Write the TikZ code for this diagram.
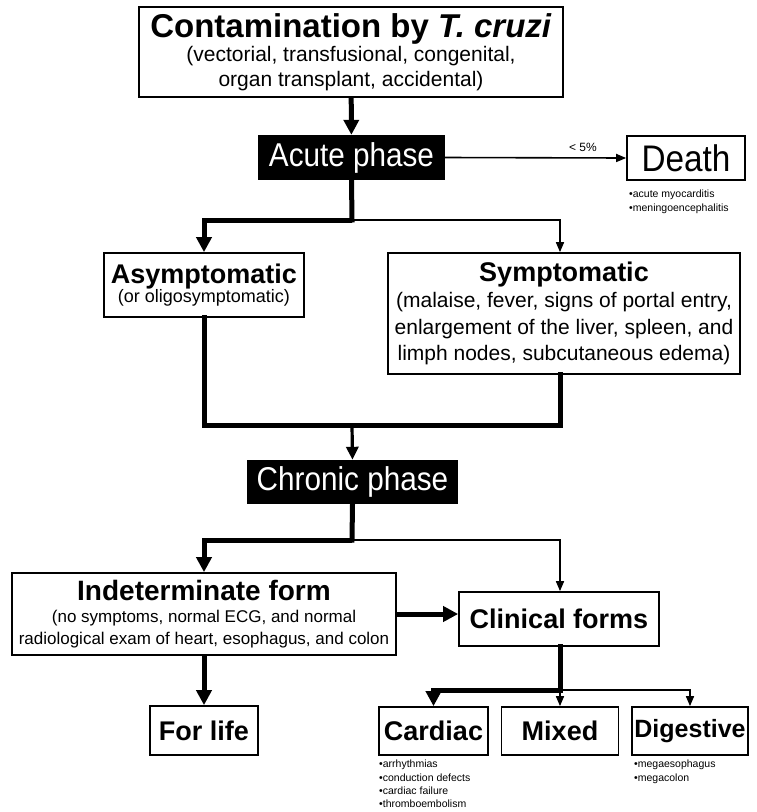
\documentclass[tikz,border=0pt]{standalone}
\usepackage{fontspec}
\setmainfont{Liberation Sans}
\newfontfamily\condfont[FakeStretch=0.9]{Liberation Sans}
\usetikzlibrary{arrows.meta}
\begin{document}
\begin{tikzpicture}[x=1pt,y=-1pt,
  wbox/.style={draw=black, line width=1.7pt, fill=white, inner sep=0pt, align=center},
  bbox/.style={fill=black, text=white, inner sep=0pt, align=center},
  thk/.style={line width=5pt},
  mid/.style={line width=3.2pt},
  thn/.style={line width=1.6pt},
  bigtip/.style={-{Triangle[width=15pt,length=15pt]}},
  midtip/.style={-{Triangle[width=12pt,length=13pt]}},
  smalltip/.style={-{Triangle[width=8pt,length=10pt]}},
  bul/.style={anchor=north west, align=left, inner sep=0pt, font=\fontsize{10.5}{13.2}\selectfont},
  bigb/.style={font=\fontsize{27}{29}\selectfont\bfseries}
]
\useasboundingbox (0,0) rectangle (757,812);

% nodes
\node[wbox, minimum width=424pt, minimum height=90pt, font=\fontsize{21}{24.5}\selectfont] (top) at (351,52)
  {{\fontsize{33}{32}\selectfont\bfseries Contamination by \textit{T. cruzi}}\\(vectorial, transfusional, congenital,\\organ transplant, accidental)};
\node[bbox, minimum width=187pt, minimum height=45pt, font=\condfont\fontsize{33}{34}\selectfont] (acute) at (351.5,157.5) {Acute phase};
\node[wbox, minimum width=118pt, minimum height=44pt, font=\condfont\fontsize{37}{38}\selectfont] (death) at (686,158) {Death};
\node[bul] (deathb) at (629,190) {•acute myocarditis\\•meningoencephalitis};
\node[font=\fontsize{12}{14}\selectfont, anchor=south, inner sep=1pt] (pct) at (583,153) {< 5\%};

\node[wbox, minimum width=200pt, minimum height=64pt] (asym) at (204,285)
  {{\fontsize{27}{28}\selectfont\bfseries Asymptomatic}\\{\fontsize{18}{20}\selectfont (or oligosymptomatic)}};
\node[wbox, minimum width=352pt, minimum height=121pt, font=\fontsize{21}{26.5}\selectfont] (symp) at (564,313.5)
  {{\fontsize{27}{28}\selectfont\bfseries Symptomatic}\\(malaise, fever, signs of portal entry,\\enlargement of the liver, spleen, and\\limph nodes, subcutaneous edema)};

\node[bbox, minimum width=211pt, minimum height=44pt, font=\condfont\fontsize{33}{34}\selectfont] (chronic) at (352.5,482) {Chronic phase};

\node[wbox, minimum width=384pt, minimum height=82pt, font=\fontsize{17}{22}\selectfont] (indet) at (204,614)
  {{\fontsize{28}{30}\selectfont\bfseries Indeterminate form}\\(no symptoms, normal ECG, and normal\\radiological exam of heart, esophagus, and colon};
\node[wbox, bigb, minimum width=200pt, minimum height=54pt] (clin) at (559,619) {Clinical forms};

\node[wbox, bigb, minimum width=108pt, minimum height=49pt] (life) at (204,730.5) {For life};
\node[wbox, bigb, minimum width=109pt, minimum height=48pt] (card) at (433.5,731) {Cardiac};
\node[wbox, bigb, minimum width=117pt, minimum height=48pt] (mixed) at (560,731) {Mixed};
\node[wbox, minimum width=116pt, minimum height=48pt, font=\fontsize{25}{27}\selectfont\bfseries] (dig) at (690,731) {Digestive};
\node[bul] (cardb) at (379,760) {•arrhythmias\\•conduction defects\\•cardiac failure\\•thromboembolism};
\node[bul] (digb) at (634,760) {•megaesophagus\\•megacolon};

% junctions
\coordinate (xr) at (560,0);
\coordinate (j1) at (352,220);
\coordinate (j2) at (352,425);
\coordinate (j3) at (352,540);
\coordinate (j4) at (560,690);

% connectors
\draw[thk, bigtip] (top) -- (acute);
\draw[thn, smalltip] (acute.east) -- (death.west);
\draw[thk, line cap=rect] (acute.south) -- (j1);
\draw[thk, bigtip] (j1) -| (asym.north);
\draw[thn, smalltip] (j1) -| (xr |- symp.north);
\draw[thk, line cap=rect] (asym.south) |- (j2);
\draw[thk, line cap=rect] (xr |- symp.south) |- (j2);
\draw[mid, midtip] (j2) -- (chronic.north);
\draw[thk, line cap=rect] (chronic.south) -- (j3);
\draw[thk, bigtip] (j3) -| (indet.north);
\draw[thn, smalltip] (j3) -| (xr |- clin.north);
\draw[thk, bigtip] (indet.east) -- (indet.east -| clin.west);
\draw[thk, bigtip] (indet.south) -- (life.north);
\draw[thk, line cap=rect] (xr |- clin.south) -- (j4);
\draw[thk, bigtip] (j4) -| (card.north);
\draw[thn, smalltip] (j4) -- (mixed.north);
\draw[thn, smalltip] (j4) -| (dig.north);
\end{tikzpicture}
\end{document}
